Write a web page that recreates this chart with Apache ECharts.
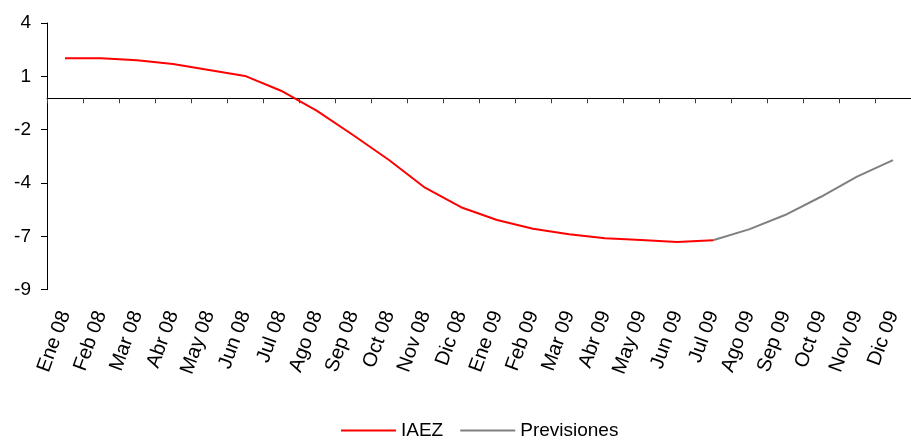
<!DOCTYPE html>
<html>
<head>
<meta charset="utf-8">
<script src="https://cdn.jsdelivr.net/npm/echarts@6/dist/echarts.min.js"></script>
<style>
  html, body { margin: 0; padding: 0; background: #fff; }
  #chart { width: 911px; height: 441px; }
</style>
</head>
<body>
<div id="chart"></div>
<script>
const categories = ['Ene 08','Feb 08','Mar 08','Abr 08','May 08','Jun 08','Jul 08','Ago 08','Sep 08','Oct 08','Nov 08','Dic 08',
                    'Ene 09','Feb 09','Mar 09','Abr 09','May 09','Jun 09','Jul 09','Ago 09','Sep 09','Oct 09','Nov 09','Dic 09'];
const iaez = [1.95, 1.95, 1.85, 1.67, 1.38, 1.09, 0.37, -0.61, -1.79, -3.01, -4.36, -5.31,
              -5.93, -6.36, -6.63, -6.82, -6.91, -7.01, -6.92, null, null, null, null, null];
const previsiones = [null, null, null, null, null, null, null, null, null, null, null, null,
                     null, null, null, null, null, null, -6.92, -6.39, -5.69, -4.80, -3.82, -3.01];
const yTickLabels = ['-9', '-7', '-4', '-2', '1', '4'];
const yMin = -9.33, yMax = 3.67, yStep = 2.6;

const chart = echarts.init(document.getElementById('chart'), null, { renderer: 'canvas' });
const font = 'Liberation Sans, Arial, sans-serif';
chart.setOption({
  animation: false,
  backgroundColor: '#fff',
  textStyle: { fontFamily: font },
  grid: { left: 47, right: -7, top: 23, bottom: 151.3, containLabel: false },
  legend: {
    left: 336, top: 416,
    itemWidth: 55, itemHeight: 2, itemGap: 17,
    icon: 'rect',
    textStyle: { fontSize: 19, color: '#000', fontFamily: font },
    data: ['IAEZ', 'Previsiones']
  },
  xAxis: [
    {
      type: 'category', data: categories, position: 'bottom', boundaryGap: true,
      axisLine: { show: false, onZero: false },
      axisTick: { show: false },
      axisLabel: { interval: 0, rotate: 70, fontSize: 20, color: '#000', margin: 22, fontFamily: font },
      splitLine: { show: false }
    },
    {
      type: 'category', data: categories, position: 'bottom', boundaryGap: true,
      axisLine: { show: true, onZero: true, onZeroAxisIndex: 0, lineStyle: { color: '#000', width: 1 } },
      axisTick: { show: true, interval: 0, inside: false, length: 5, lineStyle: { color: '#404040', width: 1 } },
      axisLabel: { show: false, interval: 0 },
      splitLine: { show: false }
    }
  ],
  yAxis: [
    {
      type: 'value', min: yMin, max: yMax,
      axisLine: { show: false }, axisTick: { show: false }, axisLabel: { show: false }, splitLine: { show: false }
    },
    {
      type: 'value', min: 0, max: yMax - yMin, interval: yStep, position: 'left',
      axisLine: { show: true, onZero: false, lineStyle: { color: '#000', width: 1 } },
      axisTick: { show: true, inside: false, length: 6, lineStyle: { color: '#000', width: 1 } },
      axisLabel: { fontSize: 19, color: '#000', margin: 16, fontFamily: font,
                   formatter: (v, i) => yTickLabels[i] },
      splitLine: { show: false }
    }
  ],
  series: [
    {
      name: 'IAEZ', type: 'line', xAxisIndex: 0, yAxisIndex: 0, data: iaez,
      symbol: 'none', connectNulls: false,
      lineStyle: { color: '#ff0000', width: 2 }, itemStyle: { color: '#ff0000' }
    },
    {
      name: 'Previsiones', type: 'line', xAxisIndex: 0, yAxisIndex: 0, data: previsiones,
      symbol: 'none', connectNulls: false,
      lineStyle: { color: '#808080', width: 2 }, itemStyle: { color: '#808080' }
    }
  ]
});
</script>
</body>
</html>
